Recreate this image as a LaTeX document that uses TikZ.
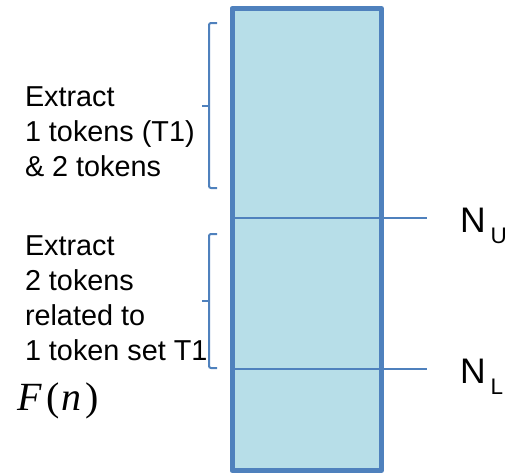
\documentclass[tikz,border=0pt]{standalone}
\usepackage{fontspec}
\setmainfont{Liberation Sans}
\newfontfamily\mtserif{Liberation Serif}
\definecolor{edge}{HTML}{4F81BD}
\definecolor{band}{HTML}{B7DEE8}
\begin{document}
\begin{tikzpicture}[x=1pt,y=-1pt,
  lbl/.style={inner sep=0pt, outer sep=0pt, anchor=north west, align=left,
              font=\fontsize{28.8}{35}\selectfont},
  brace/.style={draw=edge, line width=2pt, rounded corners=2pt},
  level/.style={draw=edge, line width=2pt},
  nlab/.style={inner sep=0pt, outer sep=0pt, anchor=base west,
               font=\fontsize{35.5}{40}\selectfont},
  sub/.style={font=\fontsize{22.5}{26}\selectfont}]
\useasboundingbox (0,0) rectangle (513,474);

% the column
\node[fill=band, minimum width=149.5pt, minimum height=462pt, inner sep=0pt,
      outer sep=0pt, anchor=north west] (col) at (232,8.5) {};

% thresholds N_U and N_L
\coordinate (nu) at (427,218);
\coordinate (nl) at (427,369);
\draw[level] (col.west |- nu) -- (nu);
\draw[level] (col.west |- nl) -- (nl);

% column border on top of the threshold lines
\draw[draw=edge, line width=5pt, line join=round]
  (col.north west) rectangle (col.south east);

% threshold labels
\node[nlab] (nulab) at (460,232.3)
  {N\kern5pt\raisebox{-11pt}{\fontsize{22.5}{26}\selectfont U}};
\node[nlab] (nllab) at (460,383)
  {N\kern5pt\raisebox{-11pt}{\fontsize{22.5}{26}\selectfont L}};

% braces
\draw[brace] (217,23) -| (209,188) -- (217,188);
\draw[brace] (209,106) -- (202,106);
\draw[brace] (217,234) -| (209,368) -- (217,368);
\draw[brace] (209,301) -- (202,301);

% brace texts
\node[lbl] (upper) at (25,86.5) {Extract\\1 tokens (T1)\\\& 2 tokens};
\node[lbl] (lower) at (25,235.5) {Extract\\2 tokens\\related to\\1 token set T1};

% function label
\node[inner sep=0pt, outer sep=0pt, anchor=base west,
      font=\mtserif\fontsize{40}{44}\selectfont] (fn) at (17,410)
  {\itshape F\kern5pt\upshape(\kern2pt\itshape n\kern4pt\upshape)};
\end{tikzpicture}
\end{document}
